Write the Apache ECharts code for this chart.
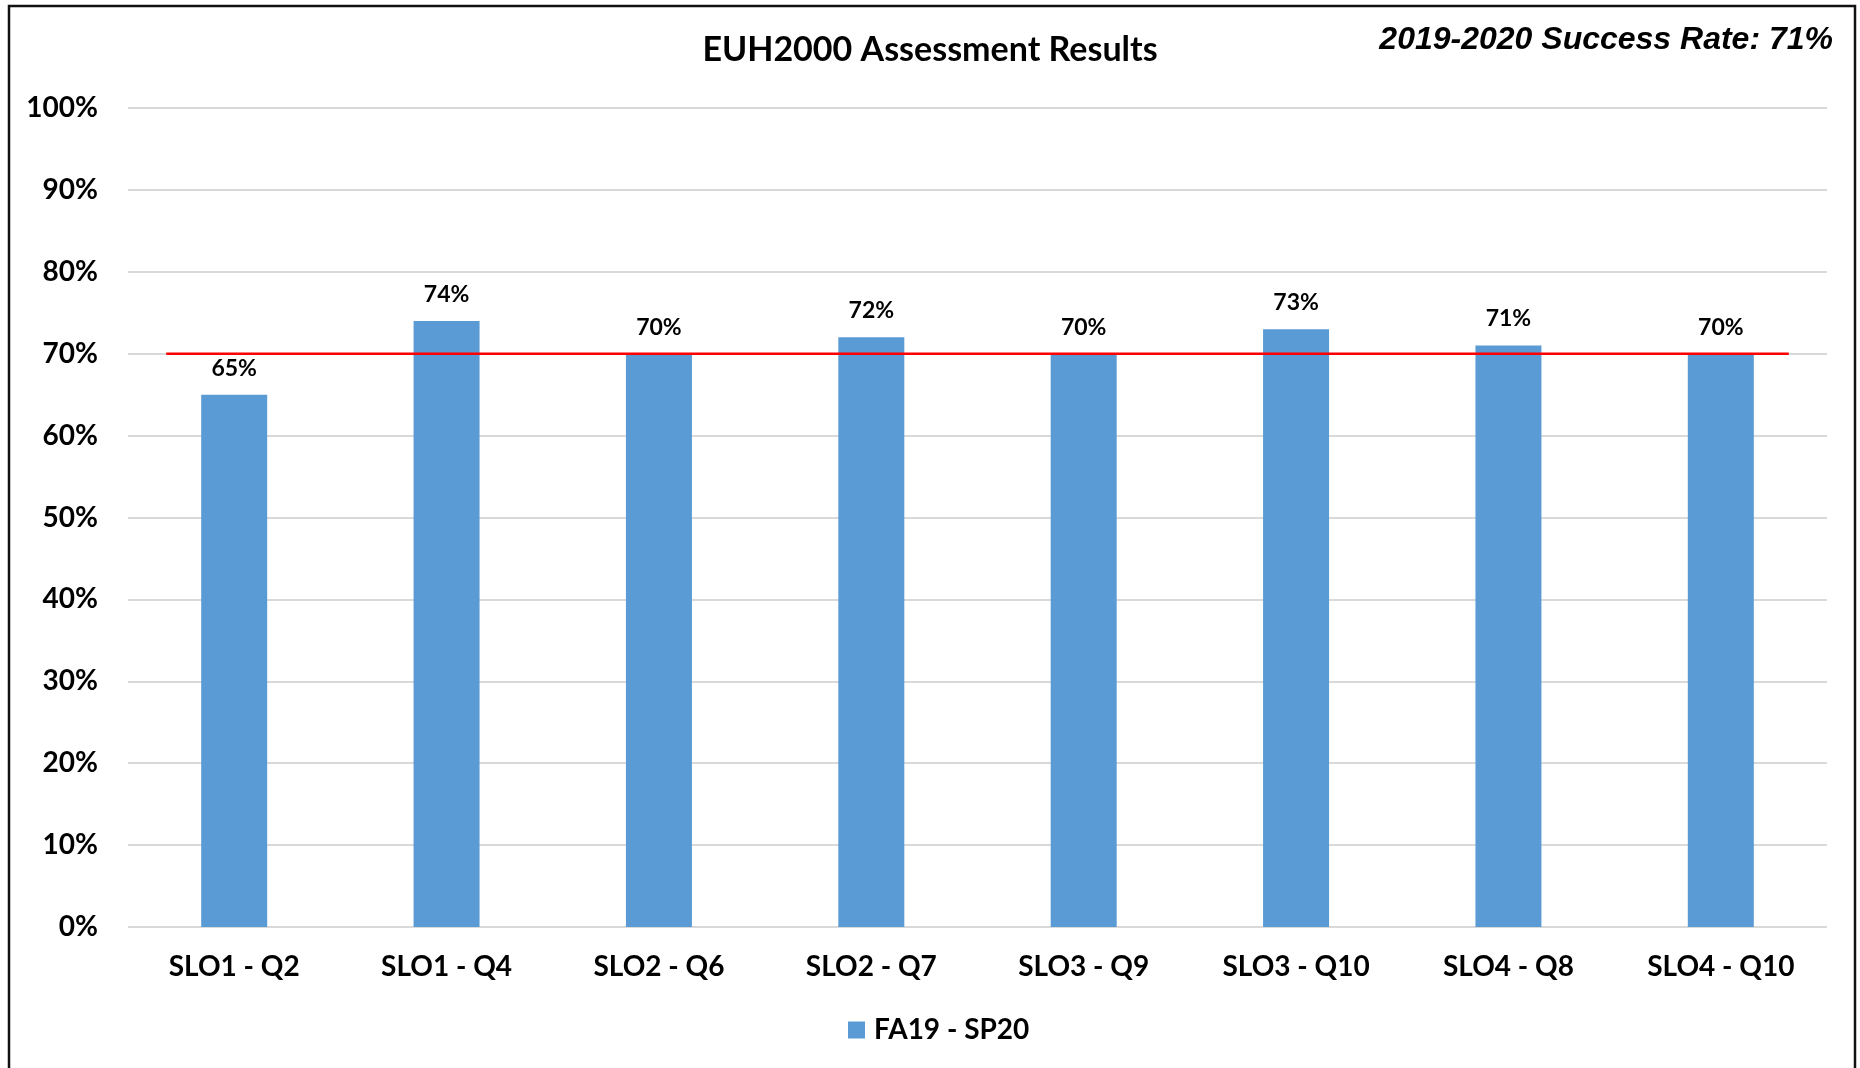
<!DOCTYPE html>
<html>
<head>
<meta charset="utf-8">
<script src="https://cdn.jsdelivr.net/npm/echarts@6/dist/echarts.min.js"></script>
<style>
  html, body { margin: 0; padding: 0; background: #fff; }
  #chart { width: 1860px; height: 1068px; }
</style>
</head>
<body>
<div id="chart"></div>
<script>
// data
const categories = ['SLO1 - Q2', 'SLO1 - Q4', 'SLO2 - Q6', 'SLO2 - Q7', 'SLO3 - Q9', 'SLO3 - Q10', 'SLO4 - Q8', 'SLO4 - Q10'];
const seriesName = 'FA19 - SP20';
const successValues = [65, 74, 70, 72, 70, 73, 71, 70];
// red target line, x in category units (0..8), y in percent
const targetLineX = [0.18, 7.82];
const targetLineY = [70, 70];

const chartTitle = 'EUH2000 Assessment Results';
const rateNote = '2019-2020 Success Rate: 71%';

const FONT = 'Lato, "Open Sans", sans-serif';

const chart = echarts.init(document.getElementById('chart'), null, { renderer: 'canvas' });

const option = {
  backgroundColor: '#fff',
  animation: false,
  title: {
    text: chartTitle,
    left: 'center',
    top: 33,
    padding: 0,
    textStyle: { fontFamily: FONT, fontWeight: 'bold', fontSize: 34, color: '#000' },
  },
  legend: {
    data: [seriesName],
    left: 848,
    top: 1016,
    padding: 0,
    icon: 'rect',
    itemWidth: 17,
    itemHeight: 17,
    textStyle: { fontFamily: FONT, fontWeight: 'bold', fontSize: 28, color: '#000', padding: [0, 0, 0, 4] },
  },
  graphic: [
    {
      type: 'rect',
      shape: { x: 9, y: 6, width: 1846, height: 1080 },
      style: { fill: 'none', stroke: '#111', lineWidth: 2.5 },
      silent: true,
    },
    {
      type: 'text',
      right: 27,
      top: 24,
      style: {
        text: rateNote,
        fontFamily: '"Liberation Sans", Arial, sans-serif',
        fontWeight: 'bold',
        fontStyle: 'italic',
        fontSize: 32,
        fill: '#000',
      },
      silent: true,
    },
  ],
  grid: { left: 128, right: 33, top: 108, bottom: 141 },
  xAxis: [
    {
      type: 'category',
      data: categories,
      axisTick: { show: false },
      axisLine: { show: false },
      axisLabel: { margin: 26, color: '#000', fontFamily: FONT, fontWeight: 'bold', fontSize: 28 },
    },
    { type: 'value', min: 0, max: 8, show: false },
  ],
  yAxis: {
    type: 'value',
    min: 0,
    max: 100,
    interval: 10,
    axisLine: { show: false },
    axisTick: { show: false },
    axisLabel: { margin: 30, formatter: '{value}%', color: '#000', fontFamily: FONT, fontWeight: 'bold', fontSize: 28 },
    splitLine: { lineStyle: { color: '#d9d9d9', width: 2 } },
  },
  series: [
    {
      name: seriesName,
      type: 'bar',
      data: successValues,
      barWidth: 66,
      itemStyle: { color: '#5b9bd5' },
      label: {
        show: true,
        position: 'top',
        distance: 15,
        formatter: '{c}%',
        color: '#000',
        fontFamily: FONT,
        fontWeight: 'bold',
        fontSize: 23,
      },
    },
    {
      name: 'target',
      type: 'line',
      xAxisIndex: 1,
      data: targetLineX.map((x, i) => [x, targetLineY[i]]),
      symbol: 'none',
      silent: true,
      z: 5,
      lineStyle: { color: '#ff0000', width: 2.5 },
    },
  ],
};

chart.setOption(option);
</script>
</body>
</html>
